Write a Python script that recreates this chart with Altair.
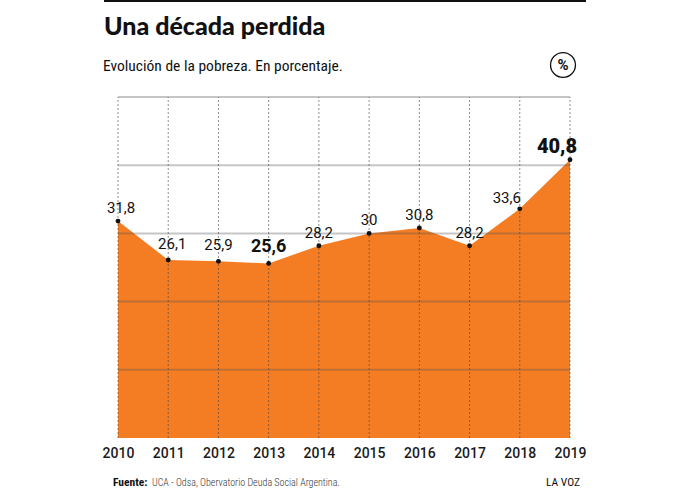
import altair as alt
import pandas as pd

years = [2010, 2011, 2012, 2013, 2014, 2015, 2016, 2017, 2018, 2019]
values = [31.8, 26.1, 25.9, 25.6, 28.2, 30.0, 30.8, 28.2, 33.6, 40.8]
grid_values = [10, 20, 30, 40, 50]

title = "Una década perdida"
subtitle = "Evolución de la pobreza. En porcentaje."
source_bold = "Fuente:"
source_rest = "UCA - Odsa, Obervatorio Deuda Social Argentina."
brand = "LA VOZ"

df = pd.DataFrame({
    "year": years,
    "value": values,
    "label": [f"{v:g}".replace(".", ",") for v in values],
})
grid_df = pd.DataFrame({"g": grid_values})

ORANGE = "#F47C22"
FONT = "Roboto"
NARROW = "Liberation Sans Narrow, Roboto Condensed, Roboto"

x = alt.X("year:Q", scale=alt.Scale(domain=[2010, 2019], nice=False, zero=False),
          axis=alt.Axis(values=years, format="d", title=None, grid=False, domain=False,
                        ticks=False, labelFontSize=14, labelFont=FONT, labelFontWeight=500,
                        labelColor="#1a1a1a", labelPadding=8, labelFlush=False))
y = alt.Y("value:Q", scale=alt.Scale(domain=[0, 50], nice=False), axis=None)

base = alt.Chart(df)

area = base.mark_area(color=ORANGE, opacity=1).encode(x=x, y=y)

hgrid = alt.Chart(grid_df).mark_rule(color="#5a5a5a", opacity=0.35, strokeWidth=2).encode(
    y=alt.Y("g:Q", scale=alt.Scale(domain=[0, 50], nice=False), axis=None)
)

vgrid = base.mark_rule(color="#444", opacity=0.6, strokeWidth=1, strokeDash=[2, 2]).encode(
    x=alt.X("year:Q"), y=alt.datum(0), y2=alt.datum(50)
)

points = base.mark_circle(color="#111", size=24, opacity=1).encode(x="year:Q", y="value:Q")

def labels(sel, size=15, weight=400, dx=0, dy=-8):
    return base.transform_filter(
        alt.FieldOneOfPredicate(field="year", oneOf=sel)
    ).mark_text(font=FONT, fontSize=size, fontWeight=weight, color="#111",
                baseline="alphabetic", dx=dx, dy=dy).encode(
        x="year:Q", y="value:Q", text="label:N")

lab_a = labels([2010], dx=3)
lab_b = labels([2011], dx=4, dy=-11)
lab_c = labels([2012], dy=-11)
lab_d = labels([2013], size=18, weight=700, dy=-11)
lab_e = labels([2014, 2015, 2016, 2017])
lab_f = labels([2018], dx=-13, dy=-6)
lab_g = labels([2019], size=20, weight=900, dx=-13, dy=-7)

def txt(text, xv, yv, size, weight=400, font=FONT, align="left", color="#111"):
    return alt.Chart(pd.DataFrame({"t": [text]})).mark_text(
        font=font, fontSize=size, fontWeight=weight, align=align, baseline="alphabetic",
        color=color).encode(x=alt.value(xv), y=alt.value(yv), text="t:N")

OX, OY = 118, 97
t_title = txt(title, 104 - OX, 35 - OY, 25, weight=900, font="Lato Black, Lato")
t_sub = txt(subtitle, 103 - OX, 71 - OY, 15.5, font=NARROW)
t_src1 = txt(source_bold, 113 - OX, 486 - OY, 11.5, weight=700, font=NARROW)
t_src2 = txt(source_rest, 152 - OX, 486 - OY, 10, weight=300, font=NARROW, color="#333")
t_brand = txt(brand, 580 - OX, 486 - OY, 11.5, font=NARROW, align="right")

top_rule = alt.Chart(pd.DataFrame({"a": [0]})).mark_rule(color="#111", strokeWidth=2).encode(
    x=alt.value(104 - OX), x2=alt.value(586 - OX), y=alt.value(1 - OY))

pct_circle = alt.Chart(pd.DataFrame({"a": [0]})).mark_point(
    shape="circle", size=620, filled=False, color="#111", strokeWidth=1.3, opacity=1).encode(
    x=alt.value(563 - OX), y=alt.value(65 - OY))
pct_text = alt.Chart(pd.DataFrame({"t": ["%"]})).mark_text(
    font=FONT, fontSize=15, fontWeight=700, color="#111", baseline="middle", align="center").encode(
    x=alt.value(563 - OX), y=alt.value(65 - OY), text="t:N")

chart = alt.layer(
    area, hgrid, vgrid, points, lab_a, lab_b, lab_c, lab_d, lab_e, lab_f, lab_g,
    t_title, t_sub, t_src1, t_src2, t_brand, top_rule, pct_circle, pct_text
).properties(
    width=452, height=341,
    autosize=alt.AutoSizeParams(type="none"),
    padding={"left": OX, "top": OY, "right": 120, "bottom": 53},
    background="white",
).configure_view(stroke=None)

chart.save("out.html", embed_options={"renderer": "svg", "actions": False})
